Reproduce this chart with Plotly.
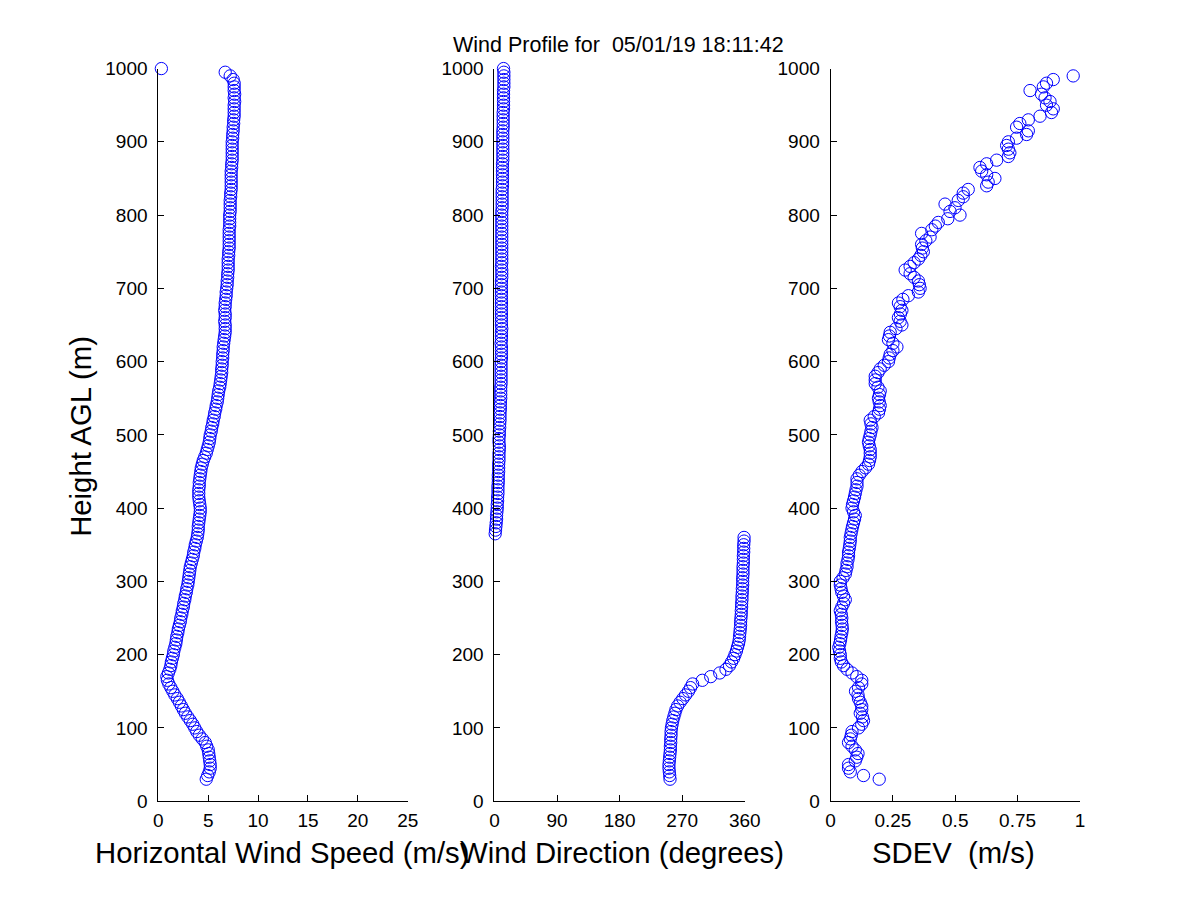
import plotly.graph_objects as go
from plotly.subplots import make_subplots

# range gate heights (m AGL)
heights = [
    30, 35, 40, 45, 50, 55, 60, 65, 70, 75, 80, 85, 90, 95,
    100, 105, 110, 115, 120, 125, 130, 135, 140, 145, 150, 155, 160, 165, 170, 175, 180, 185, 190, 195,
    200, 205, 210, 215, 220, 225, 230, 235, 240, 245, 250, 255, 260, 265, 270, 275, 280, 285, 290, 295,
    300, 305, 310, 315, 320, 325, 330, 335, 340, 345, 350, 355, 360, 365, 370, 375, 380, 385, 390, 395,
    400, 405, 410, 415, 420, 425, 430, 435, 440, 445, 450, 455, 460, 465, 470, 475, 480, 485, 490, 495,
    500, 505, 510, 515, 520, 525, 530, 535, 540, 545, 550, 555, 560, 565, 570, 575, 580, 585, 590, 595,
    600, 605, 610, 615, 620, 625, 630, 635, 640, 645, 650, 655, 660, 665, 670, 675, 680, 685, 690, 695,
    700, 705, 710, 715, 720, 725, 730, 735, 740, 745, 750, 755, 760, 765, 770, 775, 780, 785, 790, 795,
    800, 805, 810, 815, 820, 825, 830, 835, 840, 845, 850, 855, 860, 865, 870, 875, 880, 885, 890, 895,
    900, 905, 910, 915, 920, 925, 930, 935, 940, 945, 950, 955, 960, 965, 970, 975, 980, 985, 990, 995,
    1000,
]

# horizontal wind speed (m/s)
speed = [
    4.8, 4.95, 5.1, 5.2, 5.2, 5.15, 5.1, 5.05, 5.0, 4.85, 4.7, 4.4, 4.1, 3.85,
    3.65, 3.45, 3.2, 2.95, 2.7, 2.5, 2.3, 2.1, 1.9, 1.65, 1.45, 1.25, 1.05, 0.9, 0.85, 1.0, 1.15, 1.25, 1.3, 1.4,
    1.5, 1.55, 1.65, 1.75, 1.8, 1.85, 1.95, 2.0, 2.1, 2.2, 2.25, 2.35, 2.4, 2.5, 2.55, 2.65, 2.7, 2.8, 2.85, 2.95,
    3.0, 3.05, 3.1, 3.15, 3.2, 3.3, 3.4, 3.5, 3.55, 3.65, 3.7, 3.8, 3.9, 3.95, 4.0, 4.0, 4.05, 4.1, 4.15, 4.2,
    4.2, 4.15, 4.1, 4.05, 4.05, 4.05, 4.1, 4.1, 4.15, 4.2, 4.25, 4.3, 4.4, 4.5, 4.65, 4.8, 4.9, 5.0, 5.1, 5.15,
    5.2, 5.3, 5.35, 5.45, 5.5, 5.6, 5.65, 5.75, 5.8, 5.9, 5.95, 6.0, 6.05, 6.15, 6.2, 6.25, 6.3, 6.35, 6.35, 6.4,
    6.4, 6.45, 6.45, 6.5, 6.5, 6.55, 6.6, 6.65, 6.7, 6.7, 6.7, 6.65, 6.7, 6.7, 6.65, 6.7, 6.7, 6.75, 6.8, 6.8,
    6.85, 6.9, 6.9, 6.95, 6.95, 7.0, 7.0, 7.0, 7.0, 7.05, 7.05, 7.1, 7.1, 7.1, 7.1, 7.1, 7.1, 7.15, 7.15, 7.15,
    7.15, 7.2, 7.2, 7.2, 7.2, 7.25, 7.25, 7.3, 7.3, 7.3, 7.3, 7.3, 7.3, 7.35, 7.35, 7.4, 7.4, 7.4, 7.4, 7.4,
    7.4, 7.45, 7.45, 7.5, 7.5, 7.55, 7.55, 7.6, 7.6, 7.6, 7.6, 7.65, 7.6, 7.65, 7.6, 7.6, 7.6, 7.5, 7.2, 6.7,
    0.3,
]

# wind direction (degrees)
direction = [
    252.5, 252, 251.5, 251, 251, 251.5, 252, 252.5, 253, 253, 253.5, 253.5, 254, 254,
    254.5, 255.5, 256.5, 258, 259.5, 261, 263.5, 267, 271, 275, 279, 282, 285, 299, 311, 324, 333, 338, 341, 344,
    346, 348, 349.5, 351, 352, 352.5, 353, 353.5, 354, 354, 354.5, 355, 355, 355.5, 355.5, 356, 356, 356.5, 356.5, 357,
    357, 357, 357.5, 357.5, 357.5, 358, 358, 358, 358.5, 358.5, 358.5, 359, 359, 1, 1.5, 2, 2.5, 3, 3, 3.5,
    4, 4, 4.5, 4.5, 5, 5, 5, 5.5, 5.5, 5.5, 6, 6, 6, 6.5, 6.5, 6.5, 7, 7, 6.5, 6.5,
    7, 7, 7.5, 7.5, 8, 8, 8, 8.5, 8.5, 8.5, 9, 9, 9, 9, 9.5, 9.5, 9.5, 9.5, 9.5, 9.5,
    9.5, 10, 10, 10, 10, 9.5, 10, 10, 10, 10.5, 10, 10, 10, 10, 10, 10, 10, 10, 10, 10,
    10, 10, 10, 10.5, 10.5, 10.5, 10, 10.5, 10.5, 10.5, 10.5, 10.5, 10.5, 10.5, 10.5, 10.5, 10.5, 10.5, 10.5, 10.5,
    10.5, 10.5, 11, 11, 11, 11, 11, 11, 11.5, 11.5, 11.5, 11.5, 11.5, 11.5, 11.5, 12, 12, 12, 12, 12,
    12, 12, 12, 12, 12.5, 12.5, 12.5, 12.5, 12.5, 13, 13, 13, 13, 13, 13, 13.5, 13.5, 13.5, 13.5, 13.5,
    13,
]

# standard deviation (m/s)
sdev = [
    0.195, 0.132, 0.079, 0.072, 0.072, 0.099, 0.105, 0.11, 0.099, 0.086, 0.072, 0.079, 0.083, 0.086,
    0.112, 0.125, 0.132, 0.128, 0.119, 0.125, 0.125, 0.119, 0.112, 0.11, 0.10, 0.112, 0.125, 0.125, 0.105, 0.086, 0.066, 0.052, 0.043, 0.039,
    0.039, 0.036, 0.033, 0.037, 0.04, 0.042, 0.045, 0.047, 0.046, 0.044, 0.045, 0.043, 0.039, 0.045, 0.052, 0.059, 0.052, 0.045, 0.042, 0.039,
    0.039, 0.05, 0.059, 0.062, 0.066, 0.066, 0.07, 0.072, 0.072, 0.075, 0.077, 0.079, 0.079, 0.082, 0.085, 0.088, 0.092, 0.096, 0.099, 0.092,
    0.086, 0.088, 0.092, 0.096, 0.099, 0.102, 0.106, 0.106, 0.106, 0.115, 0.126, 0.14, 0.152, 0.156, 0.159, 0.159, 0.159, 0.155, 0.152, 0.155,
    0.159, 0.162, 0.166, 0.162, 0.159, 0.175, 0.192, 0.196, 0.199, 0.195, 0.192, 0.196, 0.199, 0.19, 0.179, 0.179, 0.179, 0.19, 0.199, 0.215,
    0.232, 0.235, 0.239, 0.25, 0.266, 0.25, 0.232, 0.236, 0.239, 0.262, 0.286, 0.279, 0.272, 0.28, 0.286, 0.279, 0.272, 0.29, 0.312, 0.352,
    0.359, 0.356, 0.352, 0.335, 0.319, 0.299, 0.319, 0.335, 0.352, 0.362, 0.372, 0.368, 0.365, 0.382, 0.399, 0.365, 0.406, 0.42, 0.432, 0.47,
    0.519, 0.479, 0.499, 0.459, 0.512, 0.532, 0.532, 0.552, 0.626, 0.632, 0.659, 0.626, 0.606, 0.599, 0.626, 0.666, 0.713, 0.719, 0.713, 0.706,
    0.713, 0.746, 0.786, 0.793, 0.746, 0.759, 0.793, 0.84, 0.886, 0.893, 0.866, 0.88, 0.86, 0.846, 0.80, 0.853, 0.866, 0.893, 0.973, None,
    None,
]

assert len(heights) == len(speed) == len(direction) == len(sdev)

title_text = 'Wind Profile for\u00a0 05/01/19 18:11:42'
y_label = 'Height AGL (m)'
x_labels = ['Horizontal Wind Speed (m/s)', 'Wind Direction (degrees)', 'SDEV\u00a0 (m/s)']
height_ticks = [0, 100, 200, 300, 400, 500, 600, 700, 800, 900, 1000]
speed_ticks = [0, 5, 10, 15, 20, 25]
dir_ticks = [0, 90, 180, 270, 360]
sdev_ticks = [0, 0.25, 0.5, 0.75, 1]
sdev_ticktext = ['0', '0.25', '0.5', '0.75', '1']

FONT = 'Liberation Sans, Arial, Helvetica, sans-serif'

fig = make_subplots(rows=1, cols=3)

marker = dict(symbol='circle-open', size=12.3, color='#0000ff', line=dict(width=1, color='#0000ff'))
for i, xs in enumerate([speed, direction, sdev]):
    fig.add_trace(go.Scatter(x=xs, y=heights, mode='markers', marker=marker,
                             cliponaxis=False, showlegend=False), row=1, col=i + 1)

# figure is 1184x884 so that with the page's 8px body margin it fills 1200x900
x_domains = [[0.1250, 0.3394], [0.4140, 0.6292], [0.7030, 0.9174]]
y_domain = [0.0925, 0.9414]

axis_common = dict(showgrid=False, zeroline=False, showline=True, linecolor='black', linewidth=1,
                   ticks='inside', ticklen=6, tickcolor='black', mirror=False,
                   tickfont=dict(family=FONT, size=19, color='black'))

xaxes = [
    dict(range=[0, 25], tickvals=speed_ticks),
    dict(range=[0, 360], tickvals=dir_ticks),
    dict(range=[0, 1], tickvals=sdev_ticks, ticktext=sdev_ticktext),
]
for i, xa in enumerate(xaxes):
    fig.update_xaxes(domain=x_domains[i], ticklabelstandoff=2, **xa, **axis_common, row=1, col=i + 1)
    fig.update_yaxes(domain=y_domain, range=[0, 1000], tickvals=height_ticks, ticklabelstandoff=6,
                     **axis_common, row=1, col=i + 1)

annotations = [
    dict(text=title_text, x=0.5204, y=0.9692, font=dict(size=21.5)),
    dict(text=y_label, x=0.0581, y=0.5153, textangle=-90, font=dict(size=29.3)),
    dict(text=x_labels[0], x=0.2309, y=0.0335, font=dict(size=29.3)),
    dict(text=x_labels[1], x=0.5234, y=0.0335, font=dict(size=29.3)),
    dict(text=x_labels[2], x=0.8090, y=0.0335, font=dict(size=29.3)),
]
for a in annotations:
    a['font'].update(family=FONT, color='black')
    fig.add_annotation(xref='paper', yref='paper', showarrow=False,
                       xanchor='center', yanchor='middle', **a)

fig.update_layout(width=1184, height=884, margin=dict(l=0, r=0, t=0, b=0),
                  paper_bgcolor='white', plot_bgcolor='white')

fig.write_html("out.html", config={'displayModeBar': False})
